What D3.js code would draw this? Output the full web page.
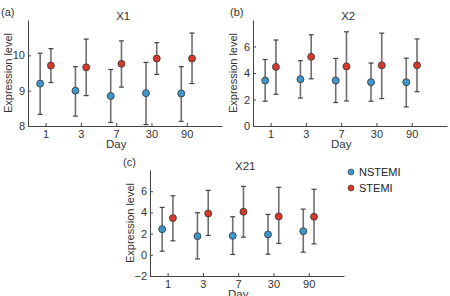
<!DOCTYPE html>
<html><head><meta charset="utf-8">
<script src="https://cdn.jsdelivr.net/npm/d3@7"></script>
<style>
body{margin:0;background:#fff;}
svg{display:block;font-family:"Liberation Sans",Arial,sans-serif;}
</style></head>
<body><svg id="c" width="450" height="296"></svg>
<script>
const days = ["1","3","7","30","90"];
const seriesNames = ["NSTEMI","STEMI"];
const seriesColors = ["#3e95c9","#d6392b"];
// panel X1
const x1Mean = [[9.2,9.0,8.85,8.93,8.92],[9.71,9.66,9.76,9.91,9.91]];
const x1Low  = [[8.33,8.28,8.1,8.04,8.13],[9.23,8.86,9.1,9.46,9.2]];
const x1High = [[10.06,9.68,9.6,9.8,9.68],[10.19,10.46,10.41,10.36,10.63]];
// panel X2
const x2Mean = [[3.43,3.53,3.43,3.31,3.31],[4.46,5.22,4.5,4.58,4.58]];
const x2Low  = [[1.87,2.11,1.77,1.87,1.44],[2.39,3.56,1.89,2.07,2.59]];
const x2High = [[5.02,4.93,5.1,4.75,5.12],[6.49,6.89,7.11,7.01,6.57]];
// panel X21
const x21Mean = [[2.42,1.76,1.79,1.92,2.23],[3.46,3.9,4.06,3.62,3.59]];
const x21Low  = [[0.34,-0.39,0.03,0.06,0.25],[1.32,1.82,1.66,1.07,1.03]];
const x21High = [[4.47,3.97,3.59,3.81,4.31],[5.57,6.08,6.46,6.37,6.18]];
const yTicks1 = [8,9,10];
const yTicks2 = [0,2,4,6];
const yTicks21 = [-2,0,2,4,6];

const panels = [
  {label:"(a)", labelX:-27, title:"X1", left:28, top:20, domain:[8,11], ticks:yTicks1, mean:x1Mean, low:x1Low, high:x1High},
  {label:"(b)", labelX:-23, title:"X2", left:253, top:20, domain:[0,8], ticks:yTicks2, mean:x2Mean, low:x2Low, high:x2High},
  {label:"(c)", labelX:-27, title:"X21", left:150, top:170, domain:[-2,8], ticks:yTicks21, mean:x21Mean, low:x21Low, high:x21High}
];
const W = 194, H = 106;
const svg = d3.select("#c");
const axisColor = "#444";
const textColor = "#333";

panels.forEach(p => {
  const g = svg.append("g").attr("transform",`translate(${p.left},${p.top})`);
  const x = d3.scaleLinear().domain([0.5,6]).range([0,W]);
  const y = d3.scaleLinear().domain(p.domain).range([H,0]);
  const xAxis = d3.axisBottom(x).tickValues([1,2,3,4,5]).tickFormat((d,i)=>days[i])
    .tickSizeInner(-3).tickSizeOuter(0).tickPadding(4);
  const yAxis = d3.axisLeft(y).tickValues(p.ticks).tickFormat(d3.format("d"))
    .tickSizeInner(-3).tickSizeOuter(0).tickPadding(3);
  const gx = g.append("g").attr("transform",`translate(0,${H})`).call(xAxis);
  const gy = g.append("g").call(yAxis);
  [gx,gy].forEach(a=>{
    a.select(".domain").attr("stroke",axisColor).attr("stroke-width",1);
    a.selectAll(".tick line").attr("stroke",axisColor);
    a.selectAll(".tick text").attr("fill",textColor).attr("font-size",11).attr("font-family","Liberation Sans, Arial, sans-serif");
  });
  g.append("text").attr("x",x(3.2)).attr("y",0).attr("text-anchor","middle")
    .attr("font-size",11.5).attr("fill",textColor).text(p.title);
  g.append("text").attr("transform",`translate(-16,${H/2}) rotate(-90)`).attr("text-anchor","middle")
    .attr("font-size",11).attr("fill",textColor).text("Expression level");
  g.append("text").attr("x",x(3)).attr("y",H+22).attr("text-anchor","middle")
    .attr("font-size",11.5).attr("fill",textColor).text("Day");
  g.append("text").attr("x",p.labelX).attr("y",-4).attr("font-size",11).attr("fill",textColor).text(p.label);

  const offs = [-0.155, 0.15];
  seriesNames.forEach((s,si)=>{
    days.forEach((d,i)=>{
      const cx = x(i+1+offs[si]);
      g.append("line").attr("x1",cx).attr("x2",cx).attr("y1",y(p.low[si][i])).attr("y2",y(p.high[si][i]))
        .attr("stroke","#6f6f6f").attr("stroke-width",1.6);
      [p.low[si][i],p.high[si][i]].forEach(v=>{
        g.append("line").attr("x1",cx-2.5).attr("x2",cx+2.5).attr("y1",y(v)).attr("y2",y(v))
          .attr("stroke","#444").attr("stroke-width",1.2);
      });
    });
    days.forEach((d,i)=>{
      const cx = x(i+1+offs[si]);
      g.append("circle").attr("cx",cx).attr("cy",y(p.mean[si][i])).attr("r",3.5)
        .attr("fill",seriesColors[si]).attr("stroke","#333").attr("stroke-width",0.8);
    });
  });
});

// legend
const lg = svg.append("g").attr("transform","translate(351,172)");
seriesNames.forEach((s,i)=>{
  lg.append("circle").attr("cx",0).attr("cy",i*16).attr("r",3).attr("fill",seriesColors[i]).attr("stroke","#333").attr("stroke-width",0.6);
  lg.append("text").attr("x",8).attr("y",i*16+4).attr("font-size",11).attr("fill","#222").text(s);
});
</script></body></html>
